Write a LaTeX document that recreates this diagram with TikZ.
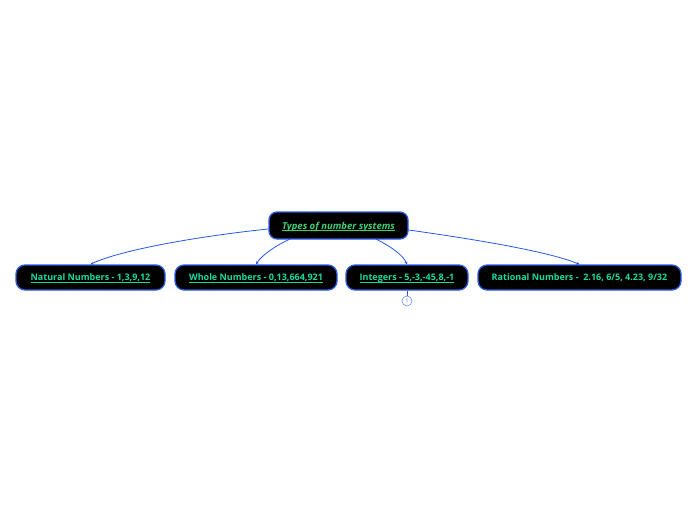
\documentclass[tikz,border=0pt]{standalone}
\usepackage{fontspec}
\setmainfont{Open Sans}
\usetikzlibrary{arrows.meta}
\definecolor{edgeblue}{HTML}{2457EC}
\definecolor{boxblue}{HTML}{2A5CE8}
\definecolor{childtxt}{HTML}{14DCA0}
\definecolor{roottxt}{HTML}{3CD070}
\definecolor{badgeblue}{HTML}{6C8CF0}
\newcommand\myul[1]{\leavevmode\setbox0\hbox{#1}\rlap{\copy0}\raisebox{-1.6pt}{\rule{\wd0}{0.55pt}}}
\tikzset{
  topic/.style={draw=boxblue, line width=1.3pt, fill=black, rounded corners=9pt,
    minimum height=25pt, inner sep=0pt, text height=6.4pt, text depth=0pt,
    text=childtxt, font=\fontsize{9}{10}\selectfont\bfseries},
  roottopic/.style={topic, minimum height=27pt, rounded corners=8pt, text=roottxt,
    text height=7pt, font=\fontsize{9.5}{11}\selectfont\bfseries\itshape},
  link/.style={draw=edgeblue, line width=0.8pt, -{Stealth[length=3pt,width=3pt]}},
  badge/.style={circle, draw=badgeblue, line width=0.6pt, minimum size=10pt, inner sep=0pt,
    text=badgeblue, font=\fontsize{6.5}{7}\selectfont},
}
\begin{document}
\begin{tikzpicture}[x=1pt,y=-1pt]
\useasboundingbox (0,0) rectangle (696,520);
\node[roottopic, minimum width=139pt] (root) at (338.5,225.5) {\myul{Types of number systems}};
\node[topic, minimum width=149pt] (nat) at (90.5,277.5) {\myul{Natural Numbers - 1,3,9,12}};
\node[topic, minimum width=162pt] (whole) at (256,277.5) {\myul{Whole Numbers - 0,13,664,921}};
\node[topic, minimum width=122pt] (int) at (407,277.5) {\myul{Integers - 5,-3,-45,8,-1}};
\node[topic, minimum width=203pt] (rat) at (579.5,277.5) {Rational Numbers -\ \ 2.16, 6/5, 4.23, 9/32};
\node[badge] (b1) at (407,301) {1};
\draw[link] (root.west |- 0,229) .. controls (200,236) and (120,250) .. (nat.north);
\draw[link] (290,239) .. controls (275,246) and (262,255) .. (whole.north);
\draw[link] (376,239) .. controls (390,246) and (403,255) .. (int.north);
\draw[link] (root.east |- 0,230) .. controls (480,240) and (550,252) .. (rat.north);
\draw[draw=edgeblue, line width=0.6pt] (int.south) -- (b1.north);
\end{tikzpicture}
\end{document}
